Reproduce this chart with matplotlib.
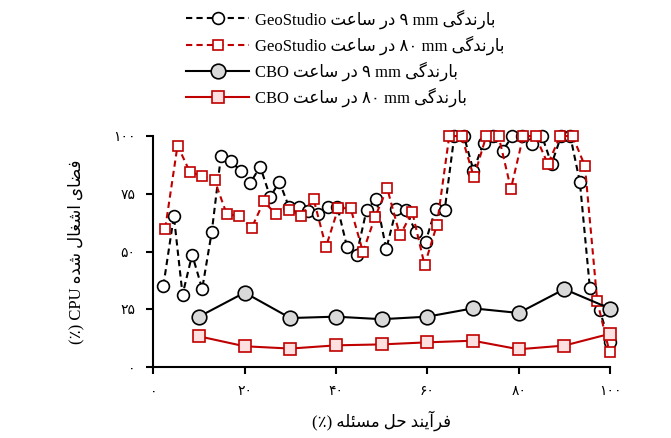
import matplotlib
matplotlib.use("Agg")
import matplotlib.pyplot as plt

plt.rcParams["font.family"] = ["Liberation Serif", "DejaVu Sans"]

# ── داده‌ها (خوانده شده از تصویر) ─────────────────────────────────────
geo9_x = [2.2, 4.5, 6.4, 8.5, 10.7, 12.8, 14.8, 17.0, 19.2, 21.2, 23.4, 25.6,
          27.6, 29.7, 31.8, 33.9, 36.1, 38.2, 40.3, 42.4, 44.5, 46.7, 48.8,
          51.0, 53.2, 55.3, 57.5, 59.6, 61.8, 63.8, 65.9, 68.0, 70.1, 72.3,
          74.4, 76.5, 78.6, 80.7, 82.9, 85.1, 87.2, 89.3, 91.3, 93.4, 95.6,
          97.7, 99.9]
geo9_y = [35.3, 65.4, 31.4, 48.7, 33.9, 58.6, 91.2, 89.2, 84.7, 79.6, 86.8, 73.6,
          80.3, 69.3, 69.3, 67.8, 66.4, 69.5, 69.5, 52.2, 48.6, 68.1, 72.9,
          51.1, 68.4, 68.1, 58.3, 54.2, 68.4, 68.0, 100, 100, 85.1, 97.0,
          100, 93.6, 100, 100, 96.7, 100, 87.9, 100, 100, 80.1, 34.2,
          24.8, 11.1]

geo80_x = [2.6, 5.3, 8.0, 10.7, 13.4, 16.1, 18.8, 21.5, 24.2, 26.9, 29.7, 32.3,
           35.1, 37.8, 40.5, 43.2, 45.9, 48.6, 51.2, 54.0, 56.7, 59.4, 62.1,
           64.8, 67.5, 70.2, 72.9, 75.6, 78.3, 81.0, 83.7, 86.4, 89.1, 91.8,
           94.5, 97.2, 99.9]
geo80_y = [60.0, 95.9, 84.5, 82.7, 80.9, 66.1, 65.5, 60.2, 71.7, 66.1, 68.1, 65.5,
           72.7, 52.1, 68.8, 68.8, 49.9, 65.2, 77.5, 57.0, 67.2, 44.2, 61.6,
           100, 100, 82.2, 100, 100, 77.2, 100, 100, 87.9, 100, 100,
           87.1, 28.7, 6.5]

cbo_x = [10, 20, 30, 40, 50, 60, 70, 80, 90, 100]
cbo9_y = [21.9, 32.3, 21.3, 21.9, 20.8, 21.9, 25.5, 23.5, 33.8, 25.4]
cbo80_y = [13.4, 9.1, 8.1, 9.5, 9.9, 10.8, 11.5, 7.8, 9.4, 14.5]

x_ticks = [0, 20, 40, 60, 80, 100]
x_tick_labels = ["۰", "۲۰", "۴۰", "۶۰", "۸۰", "۱۰۰"]
y_ticks = [0, 25, 50, 75, 100]
y_tick_labels = ["۰", "۲۵", "۵۰", "۷۵", "۱۰۰"]

# ── شکل‌دهی ساده حروف فارسی (matplotlib خودش این کار را نمی‌کند) ────────
DUAL = set("بتحسشضعغفلمنهئیگ")
RIGHT = set("اآدر")
FORMS = {  # (تنها، پایانی، آغازی، میانی)
    "ا": (0xFE8D, 0xFE8E, None, None), "آ": (0xFE81, 0xFE82, None, None),
    "د": (0xFEA9, 0xFEAA, None, None), "ر": (0xFEAD, 0xFEAE, None, None),
    "ب": (0xFE8F, 0xFE90, 0xFE91, 0xFE92), "ت": (0xFE95, 0xFE96, 0xFE97, 0xFE98),
    "ح": (0xFEA1, 0xFEA2, 0xFEA3, 0xFEA4), "س": (0xFEB1, 0xFEB2, 0xFEB3, 0xFEB4),
    "ش": (0xFEB5, 0xFEB6, 0xFEB7, 0xFEB8), "ض": (0xFEBD, 0xFEBE, 0xFEBF, 0xFEC0),
    "ع": (0xFEC9, 0xFECA, 0xFECB, 0xFECC), "غ": (0xFECD, 0xFECE, 0xFECF, 0xFED0),
    "ف": (0xFED1, 0xFED2, 0xFED3, 0xFED4), "ل": (0xFEDD, 0xFEDE, 0xFEDF, 0xFEE0),
    "م": (0xFEE1, 0xFEE2, 0xFEE3, 0xFEE4), "ن": (0xFEE5, 0xFEE6, 0xFEE7, 0xFEE8),
    "ه": (0xFEE9, 0xFEEA, 0xFEEB, 0xFEEC), "ئ": (0xFE89, 0xFE8A, 0xFE8B, 0xFE8C),
    "ی": (0xFEEF, 0xFEF0, 0xFEF3, 0xFEF4), "گ": (0xFB92, 0xFB93, 0xFB94, 0xFB95),
}


def fa(text):
    out = []
    for i, ch in enumerate(text):
        if ch not in FORMS:
            out.append(ch)
            continue
        prev = text[i - 1] if i > 0 else ""
        nxt = text[i + 1] if i + 1 < len(text) else ""
        jp = prev in DUAL
        jn = ch in DUAL and (nxt in DUAL or nxt in RIGHT)
        iso, fin, ini, med = FORMS[ch]
        cp = med if (jp and jn) else fin if jp else ini if jn else iso
        out.append(chr(cp))
    return "".join(out)[::-1]


rain = fa("بارندگی")
per_hour = fa("در ساعت")
labels = [
    "GeoStudio " + per_hour + " ۹ mm " + rain,
    "GeoStudio " + per_hour + " ۸۰ mm " + rain,
    "CBO " + per_hour + " ۹ mm " + rain,
    "CBO " + per_hour + " ۸۰ mm " + rain,
]

RED = "#C00000"

fig = plt.figure(figsize=(6.71, 4.38), dpi=100)
ax = fig.add_axes([0.2285, 0.1614, 0.6806, 0.528])

ax.plot(geo9_x, geo9_y, ls=(0, (3, 2)), color="black", lw=1.5,
        marker="o", ms=8.5, mfc="white", mec="black", mew=1.2,
        clip_on=False, label=labels[0], zorder=3)
ax.plot(geo80_x, geo80_y, ls=(0, (3, 2)), color=RED, lw=1.5,
        marker="s", ms=7, mfc="white", mec=RED, mew=1.2,
        clip_on=False, label=labels[1], zorder=4)
ax.plot(cbo_x, cbo9_y, ls="-", color="black", lw=1.5,
        marker="o", ms=10.5, mfc="#D9D9D9", mec="black", mew=1.2,
        clip_on=False, label=labels[2], zorder=5)
ax.plot(cbo_x, cbo80_y, ls="-", color=RED, lw=1.5,
        marker="s", ms=9, mfc="#FFE0E0", mec=RED, mew=1.2,
        clip_on=False, label=labels[3], zorder=6)

ax.set_xlim(0, 100)
ax.set_ylim(0, 100)
ax.spines["top"].set_visible(False)
ax.spines["right"].set_visible(False)
for s in ("left", "bottom"):
    ax.spines[s].set_linewidth(1.5)
ax.set_xticks(x_ticks, x_tick_labels)
ax.set_yticks(y_ticks, y_tick_labels)
ax.tick_params(axis="both", width=1.5, length=5, labelsize=10)
ax.tick_params(axis="y", pad=8)
ax.tick_params(axis="x", pad=8)

ax.set_xlabel("(٪) " + fa("فرآیند حل مسئله"), fontsize=12)
ax.xaxis.set_label_coords(0.5, -0.185)
ax.set_ylabel("(٪) CPU " + fa("فضای اشغال شده"), fontsize=12)
ax.yaxis.set_label_coords(-0.15, 0.5)

fig.legend(loc="upper left", bbox_to_anchor=(186 / 671, 1 - 9 / 438),
           frameon=False, fontsize=12, handlelength=3.8,
           handletextpad=0.35, labelspacing=0.4, borderpad=0,
           borderaxespad=0)

fig.savefig("out.png", dpi=100)
